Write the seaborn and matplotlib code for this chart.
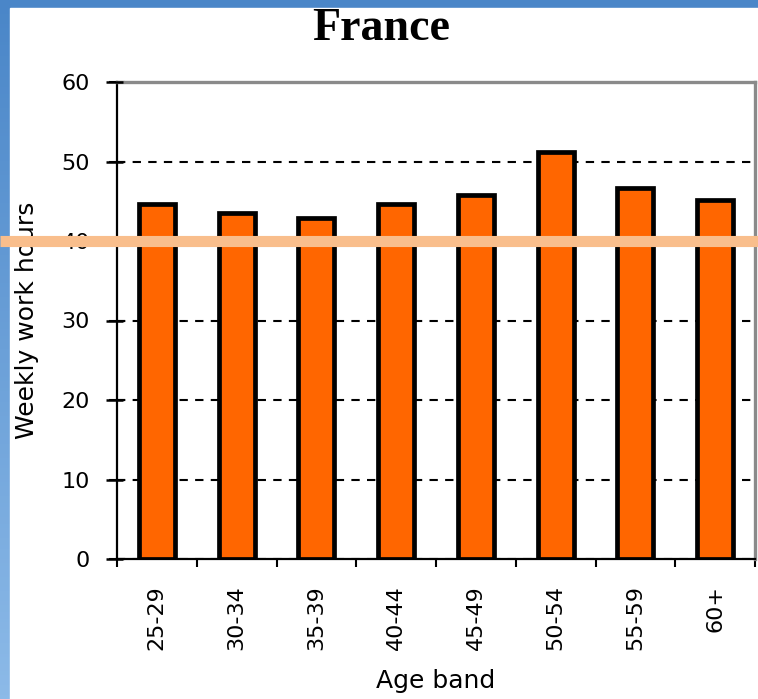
import numpy as np
import pandas as pd
import seaborn as sns
import matplotlib.pyplot as plt
from matplotlib.patches import Rectangle
from matplotlib.transforms import blended_transform_factory

# data
age_bands = ['25-29', '30-34', '35-39', '40-44', '45-49', '50-54', '55-59', '60+']
weekly_hours = [44.7, 43.5, 42.9, 44.6, 45.8, 51.2, 46.7, 45.2]
y_ticks = [0, 10, 20, 30, 40, 50, 60]
marker_level = 40

df = pd.DataFrame({'band': age_bands, 'hours': weekly_hours})

sns.set_style('white', {'xtick.bottom': True, 'ytick.left': True,
                        'text.color': 'black', 'axes.labelcolor': 'black',
                        'xtick.color': 'black', 'ytick.color': 'black'})
plt.rcParams['font.family'] = ['DejaVu Sans']

W, H = 758, 699
fig = plt.figure(figsize=(W / 100, H / 100), dpi=100)

# slide background: blue gradient strip on left and top
bg = fig.add_axes([0, 0, 1, 1], zorder=-10)
top_c = np.array([74, 134, 200]) / 255
bot_c = np.array([140, 186, 232]) / 255
t = np.linspace(0, 1, 200)[:, None, None]
grad = top_c * (1 - t) + bot_c * t
bg.imshow(grad, aspect='auto', extent=[0, 1, 0, 1])
bg.add_patch(Rectangle((10 / W, 0), 1, 1 - 8 / H, color='white'))
bg.set_xlim(0, 1)
bg.set_ylim(0, 1)
bg.axis('off')

ax_w = 755 - 117
ax = fig.add_axes([117 / W, 1 - 559 / H, ax_w / W, (559 - 82) / H])
ax.set_facecolor('white')

sns.barplot(data=df, x='band', y='hours', color='#FF6600', saturation=1,
            edgecolor='black', linewidth=3.4, width=0.45, ax=ax, zorder=3)

ax.set_xlim(-0.5, len(age_bands) - 0.5)
ax.set_ylim(0, 60)
ax.set_yticks(y_ticks)

# dashed gridlines (axis sits under the bars by zorder)
ax.yaxis.grid(True, color='black', linestyle=(0, (4, 3.5)), linewidth=1.5)

# spines
for s in ['left', 'bottom']:
    ax.spines[s].set_color('black')
    ax.spines[s].set_linewidth(1.6)
for s in ['top', 'right']:
    ax.spines[s].set_visible(True)
    ax.spines[s].set_color('#8a8a8a')
    ax.spines[s].set_linewidth(2.4)

# ticks
ax.tick_params(axis='y', left=True, direction='inout', length=11, width=1.5, pad=14,
               labelsize=16, colors='black')
# y tick marks crossing the axis line, drawn explicitly so they always show
ax.hlines(y_ticks, -11 / ax_w, 6 / ax_w, transform=ax.get_yaxis_transform(),
          colors='black', linewidth=1.8, clip_on=False, zorder=4)
ax.set_xticks(range(len(age_bands)))
ax.set_xticks(np.arange(-0.5, len(age_bands)), minor=True)
ax.tick_params(axis='x', which='major', bottom=True, length=0, pad=19, labelsize=16,
               labelrotation=90, labelcolor='black')
ax.tick_params(axis='x', which='minor', bottom=True, direction='out', length=6,
               width=1.5, color='black')

ax.set_xlabel('Age band', fontsize=18, va='center', color='black')
ax.set_ylabel('Weekly work hours', fontsize=18, va='center', color='black')
ax.xaxis.set_label_coords(0.5, (559 - 681) / (559 - 82))
ax.yaxis.set_label_coords((27 - 117) / ax_w, 0.5)

fig.text(381 / W, 1 - 40 / H, 'France', ha='center', va='baseline', color='black',
         family='Liberation Serif', weight='bold', fontsize=33)

# light orange marker line across the whole slide
tr = blended_transform_factory(fig.transFigure, ax.transData)
ax.plot([0, 1], [marker_level, marker_level], transform=tr, color='#F9BE8C',
        linewidth=8, clip_on=False, zorder=10, solid_capstyle='butt')

fig.savefig('out.png', dpi=100)
